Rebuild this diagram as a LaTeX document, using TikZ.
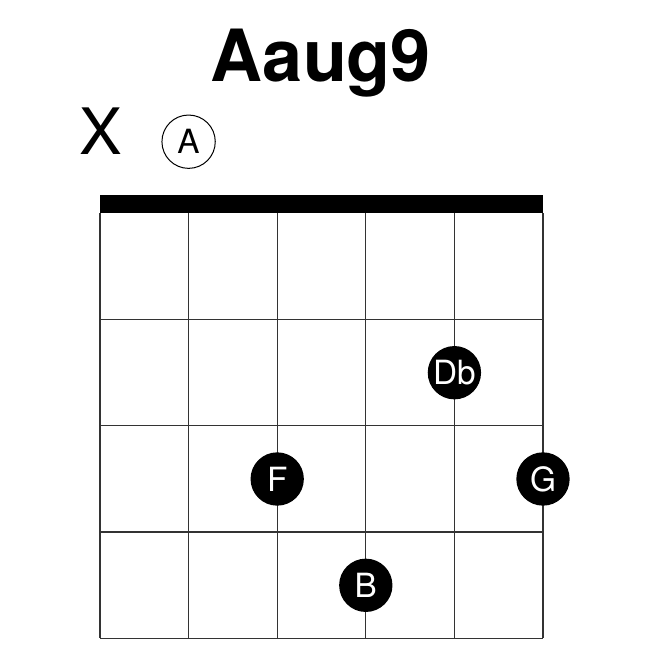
\documentclass[tikz,border=0pt]{standalone}
\usepackage{fontspec}
\setmainfont{TeX Gyre Heros}

\tikzset{every picture/.style={line width=0.75pt}}
\tikzset{
  fretline/.style={color={rgb, 255:red, 51; green, 51; blue, 51}, line width=1pt},
  nutbar/.style={fill=black, draw=none},
  fingerdot/.style={circle, fill=black, text=white, minimum size=40pt, inner sep=0pt, font=\fontsize{25}{25}\selectfont},
  opendot/.style={circle, draw=black, line width=0.75pt, minimum size=40pt, inner sep=0pt, font=\fontsize{25}{25}\selectfont},
  chordname/.style={anchor=base, inner sep=0pt, font=\fontsize{54}{54}\selectfont\bfseries},
  mutedmark/.style={anchor=base, inner sep=0pt, font=\fontsize{48}{48}\selectfont}
}

\begin{document}
\begin{tikzpicture}[x=0.75pt,y=0.75pt,yscale=-1,xscale=1]
        \useasboundingbox (0,0) rectangle (644,656);

        %Shape: Rectangle (nut)
        \draw [nutbar] (100,195) rectangle (543,213.3) ;
        %Straight Lines (strings)
        \draw [fretline] (100,213) -- (100,638.3) ;
        \draw [fretline] (188.6,213) -- (188.6,638.3) ;
        \draw [fretline] (277.2,213) -- (277.2,638.3) ;
        \draw [fretline] (365.8,213) -- (365.8,638.3) ;
        \draw [fretline] (454.4,213) -- (454.4,638.3) ;
        \draw [fretline] (543,213) -- (543,638.3) ;
        %Straight Lines (frets)
        \draw [fretline] (100,319.3) -- (543,319.3) ;
        \draw [fretline] (100,425.7) -- (543,425.7) ;
        \draw [fretline] (100,532) -- (543,532) ;
        \draw [fretline] (100,638.3) -- (543,638.3) ;

        % Text Node
        \node [chordname] (title) at (321,81.7) {Aaug9};
        % Text Node
        \node [mutedmark] (mute) at (101,155) {X};
        % Text Node
        \node [opendot] (openA) at (188.6,141.7) {A};

        % Finger dots
        \node [fingerdot] (dotDb) at (454.4,372.7) {Db};
        \node [fingerdot] (dotF) at (277.2,479) {F};
        \node [fingerdot] (dotG) at (543,479) {G};
        \node [fingerdot] (dotB) at (365.8,585.3) {B};

\end{tikzpicture}
\end{document}
